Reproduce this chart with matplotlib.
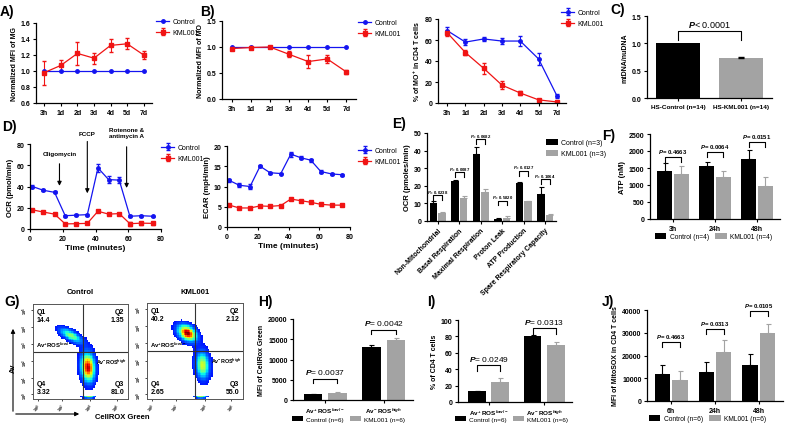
import numpy as np
import matplotlib
matplotlib.use('Agg')
import matplotlib.pyplot as plt

plt.rcParams['font.family'] = ['Liberation Sans', 'DejaVu Sans']
plt.rcParams['font.weight'] = 'bold'
plt.rcParams['axes.labelweight'] = 'bold'
plt.rcParams['mathtext.fontset'] = 'custom'
plt.rcParams['mathtext.rm'] = 'Liberation Sans:bold'
plt.rcParams['mathtext.it'] = 'Liberation Sans:italic'
plt.rcParams['mathtext.bf'] = 'Liberation Sans:bold'

# ---- data ----
days = ['3h', '1d', '2d', '3d', '4d', '5d', '7d']
mg_ctrl = [1.0, 1.0, 1.0, 1.0, 1.0, 1.0, 1.0]
mg_kml = [0.98, 1.07, 1.22, 1.16, 1.32, 1.34, 1.20]
mg_kml_err = [0.15, 0.07, 0.14, 0.07, 0.08, 0.07, 0.05]

mo_ctrl = [1.0, 1.0, 1.0, 1.0, 1.0, 1.0, 1.0]
mo_kml = [0.97, 0.99, 1.0, 0.86, 0.72, 0.77, 0.52]
mo_kml_err = [0.02, 0.01, 0.02, 0.06, 0.12, 0.08, 0.04]

mop_ctrl = [69, 58, 61, 59, 59, 42, 7]
mop_ctrl_err = [3, 2.5, 2, 3, 4.5, 6, 2]
mop_kml = [67, 48, 33, 17, 9.5, 3, 1]
mop_kml_err = [3, 2.5, 5, 4, 2, 1, 0.5]

mt_labels = ['HS-Control (n=14)', 'HS-KML001 (n=14)']
mt_vals = [1.0, 0.73]
mt_err = [0.0, 0.02]

time_min = [1.5, 8, 15, 21.5, 28, 35, 41.5, 48, 54.5, 61, 68, 75]
ocr_ctrl = [40, 36.5, 34.5, 12.5, 13, 13.5, 57.5, 46.5, 46, 12, 12.5, 12]
ocr_ctrl_err = [1, 1, 1, 1, 1, 1, 3.5, 3.5, 3, 1, 1, 0.5]
ocr_kml = [18, 16, 14, 4.8, 5, 5.3, 16.7, 14, 14.5, 5, 5.5, 5.3]
ocr_kml_err = [0.5, 0.5, 0.5, 1, 1, 1, 1, 0.5, 0.5, 2, 1.5, 1.5]
ecar_ctrl = [11.5, 10.3, 10, 15, 13.4, 13.2, 18, 17.1, 16.5, 13.7, 13.1, 12.9]
ecar_ctrl_err = [0.3, 0.5, 0.5, 0.2, 0.2, 0.2, 0.6, 0.4, 0.4, 0.4, 0.2, 0.2]
ecar_kml = [5.4, 4.7, 4.7, 5.2, 5.1, 5.3, 6.9, 6.5, 6.1, 5.6, 5.4, 5.4]
ecar_kml_err = [0.2] * 12

resp_cats = ['Non-Mitochondrial', 'Basal Respiration', 'Maximal Respiration',
             'Proton Leak', 'ATP Production', 'Spare Respiratory Capacity']
resp_ctrl = [10.3, 22.8, 38, 1.3, 21.8, 15.5]
resp_ctrl_err = [0.8, 0.6, 4, 0.2, 0.4, 4]
resp_kml = [4.7, 12.8, 16.5, 1.9, 11.2, 3.4]
resp_kml_err = [0.6, 1.3, 1.5, 0.7, 0.4, 0.3]
resp_p = ['0.0238', '0.0087', '0.0682', '0.5820', '0.0127', '0.1064']
resp_bracket = [12, 25, 43.8, 9, 25.8, 21]

atp_times = ['3h', '24h', '48h']
atp_ctrl = [1420, 1560, 1760]
atp_ctrl_err = [220, 120, 270]
atp_kml = [1330, 1250, 980]
atp_kml_err = [230, 150, 250]
atp_p = ['0.4663', '0.0064', '0.0151']
atp_bracket = [1680, 1820, 2120]

ros_groups = [r'Av$^{+}$ ROS$^{low/-}$', r'Av$^{-}$ ROS$^{high}$']
cellrox_ctrl = [1500, 13200]
cellrox_ctrl_err = [80, 400]
cellrox_kml = [1800, 14800]
cellrox_kml_err = [100, 500]
cellrox_p = ['0.0037', '0.0042']
cellrox_bracket = [4200, 16300]

pct_ctrl = [13, 81]
pct_ctrl_err = [1, 0.5]
pct_kml = [24, 69]
pct_kml_err = [5, 4]
pct_p = ['0.0249', '0.0313']
pct_bracket = [38, 83]

sox_times = ['6h', '24h', '48h']
sox_ctrl = [12000, 12700, 15800]
sox_ctrl_err = [4000, 4500, 4800]
sox_kml = [9200, 21700, 29800]
sox_kml_err = [3800, 5000, 4200]
sox_p = ['0.4663', '0.0313', '0.0105']
sox_bracket = [23700, 29500, 37400]

# flow plots: quadrant values and cluster shapes (cx, cy, sx, sy, angle, weight)
flow_titles = ['Control', 'KML001']
flow_quads = [['14.4', '1.35', '3.32', '81.0'], ['40.2', '2.12', '2.65', '55.0']]
flow_split = [(0.53, 0.5), (0.5, 0.5)]
flow_clusters = [
    [(0.40, 0.67, 0.075, 0.028, -30, 0.45), (0.40, 0.67, 0.12, 0.05, -30, 0.06),
     (0.58, 0.33, 0.04, 0.085, 4, 1.0), (0.58, 0.35, 0.07, 0.14, 4, 0.07),
     (0.59, 0.012, 0.035, 0.007, 0, 0.7)],
    [(0.42, 0.69, 0.06, 0.04, -35, 1.05), (0.40, 0.69, 0.11, 0.07, -35, 0.07),
     (0.58, 0.35, 0.04, 0.08, 4, 0.55), (0.58, 0.36, 0.07, 0.13, 4, 0.06),
     (0.56, 0.012, 0.035, 0.007, 0, 0.7)],
]

BLUE = '#1414f0'
RED = '#f01414'
GREY = '#a3a3a3'

W, H = 786, 427
fig = plt.figure(figsize=(W / 100, H / 100), dpi=100)


def add_ax(l, t, r, b):
    return fig.add_axes([l / W, 1 - b / H, (r - l) / W, (b - t) / H])


def style(ax, fs=5):
    for s in ['top', 'right']:
        ax.spines[s].set_visible(False)
    for s in ['left', 'bottom']:
        ax.spines[s].set_linewidth(0.9)
    ax.tick_params(labelsize=fs, width=0.8, length=2.5, pad=1.5)


def panel(x, y, s):
    fig.text(x / W, 1 - y / H, s, fontsize=10, weight='bold', va='center')


def bracket(ax, x1, x2, y, h, label, ty, fs=4, weight='bold'):
    ax.plot([x1, x1, x2, x2], [y, y + h, y + h, y], color='k', lw=0.8, clip_on=False)
    ax.text((x1 + x2) / 2, ty, '$P$= ' + label, ha='center', va='center',
            fontsize=fs, weight=weight, clip_on=False)


def line_legend(ax, x, y):
    ax.legend(loc='upper left', bbox_to_anchor=(x / W, 1 - y / H),
              bbox_transform=fig.transFigure, frameon=False,
              prop={'size': 5, 'weight': 'normal'}, handlelength=1.9,
              borderaxespad=0, labelspacing=0.6, borderpad=0, handletextpad=0.5)


def bar_legend(ax, x, y, ncol=2, fs=5):
    ax.legend(loc='upper left', bbox_to_anchor=(x / W, 1 - y / H),
              bbox_transform=fig.transFigure, frameon=False,
              prop={'size': fs, 'weight': 'normal'}, ncol=ncol,
              handlelength=1.7, handleheight=0.9, borderaxespad=0,
              columnspacing=1.0, borderpad=0, handletextpad=0.5, labelspacing=0.5)


def ts_plot(ax, xs, c, c_err, k, k_err):
    ax.errorbar(xs, c, yerr=c_err, color=BLUE, marker='o', ms=2.5, lw=0.9,
                capsize=1.5, elinewidth=0.8, label='Control')
    ax.errorbar(xs, k, yerr=k_err, color=RED, marker='s', ms=2.8, lw=0.9,
                capsize=1.5, elinewidth=0.8, label='KML001')


def grouped_bars(ax, n, c, c_err, k, k_err, w=0.35, gap=0.05, labels=('Control', 'KML001')):
    x = np.arange(n)
    xc = x - w / 2 - gap / 2
    xk = x + w / 2 + gap / 2
    ax.bar(xc, c, width=w, color='black', label=labels[0])
    ax.bar(xk, k, width=w, color=GREY, label=labels[1])
    ax.errorbar(xc, c, yerr=[np.zeros(n), c_err], fmt='none', ecolor='black',
                capsize=1.8, elinewidth=0.8, capthick=0.8)
    ax.errorbar(xk, k, yerr=[np.zeros(n), k_err], fmt='none', ecolor=GREY,
                capsize=1.8, elinewidth=0.8, capthick=0.8)
    return xc, xk


# ---- A ----
panel(0, 12, 'A)')
ax = add_ax(36, 24, 152, 104)
style(ax)
ts_plot(ax, np.arange(7), mg_ctrl, None, mg_kml, mg_kml_err)
ax.set_xticks(np.arange(7), days)
ax.set_xlim(-0.5, 6.5)
ax.set_ylim(0.6, 1.6)
ax.set_yticks([0.6, 0.8, 1.0, 1.2, 1.4, 1.6])
ax.set_ylabel('Normalized MFI of MG', fontsize=5, labelpad=2)
line_legend(ax, 156, 19)

# ---- B ----
panel(200, 12, 'B)')
ax = add_ax(222, 22, 356, 100)
style(ax)
ts_plot(ax, np.arange(7), mo_ctrl, None, mo_kml, mo_kml_err)
ax.set_xticks(np.arange(7), days)
ax.set_xlim(-0.5, 6.5)
ax.set_ylim(0, 1.5)
ax.set_yticks([0, 0.5, 1.0, 1.5])
ax.set_ylabel('Normalized MFI of MO', fontsize=5, labelpad=2)
line_legend(ax, 358, 20)

# ---- MO % ----
ax = add_ax(438, 20, 566, 104)
style(ax)
ts_plot(ax, np.arange(7), mop_ctrl, mop_ctrl_err, mop_kml, mop_kml_err)
ax.set_xticks(np.arange(7), days)
ax.set_xlim(-0.5, 6.5)
ax.set_ylim(0, 80)
ax.set_yticks([0, 20, 40, 60, 80])
ax.set_ylabel(r'% of MO$^{+}$ in CD4 T cells', fontsize=5, labelpad=2)
line_legend(ax, 561, 10)

# ---- C ----
panel(610, 10, 'C)')
ax = add_ax(647, 17, 772, 99)
style(ax)
ax.bar([0, 1], mt_vals, width=0.7, color=['black', GREY])
ax.errorbar([1], mt_vals[1:], yerr=[[0], mt_err[1:]], fmt='none', ecolor='black',
            capsize=2, elinewidth=0.8)
ax.set_xlim(-0.5, 1.5)
ax.set_ylim(0, 1.5)
ax.set_yticks([0, 0.5, 1.0, 1.5])
ax.set_xticks([0, 1], mt_labels, fontsize=4.6)
ax.set_ylabel('mtDNA/nuDNA', fontsize=5, labelpad=2)
ax.plot([0, 0, 1, 1], [1.07, 1.22, 1.22, 1.07], color='k', lw=0.8)
ax.text(0.5, 1.36, '$P$< 0.0001', ha='center', va='center', fontsize=6.5, weight='normal')

# ---- D ----
panel(2, 127, 'D)')
ax = add_ax(30, 145, 161, 230)
style(ax)
ts_plot(ax, time_min, ocr_ctrl, ocr_ctrl_err, ocr_kml, ocr_kml_err)
ax.set_xlim(0, 80)
ax.set_ylim(0, 80)
ax.set_xticks([0, 20, 40, 60, 80])
ax.set_yticks([0, 20, 40, 60, 80])
ax.set_ylabel('OCR (pmol/min)', fontsize=5.5, labelpad=2)
ax.set_xlabel('Time (minutes)', fontsize=6, labelpad=2)
arr = dict(arrowstyle='-|>', color='k', lw=0.8, mutation_scale=6)
ax.annotate('', xy=(18, 38), xytext=(18, 64), arrowprops=arr)
ax.text(18, 71, 'Oligomycin', ha='center', va='center', fontsize=4.5)
ax.annotate('', xy=(35, 31), xytext=(35, 85), arrowprops=arr, annotation_clip=False)
ax.text(35, 90, 'FCCP', ha='center', va='center', fontsize=4.5, clip_on=False)
ax.annotate('', xy=(59, 36), xytext=(59, 80), arrowprops=arr, annotation_clip=False)
ax.text(59, 91, 'Rotenone &\nantimycin A', ha='center', va='center', fontsize=4.5,
        linespacing=1.1, clip_on=False)
line_legend(ax, 161, 145)

ax = add_ax(227, 147, 350, 228)
style(ax)
ts_plot(ax, time_min, ecar_ctrl, ecar_ctrl_err, ecar_kml, ecar_kml_err)
ax.set_xlim(0, 80)
ax.set_ylim(0, 20)
ax.set_xticks([0, 20, 40, 60, 80])
ax.set_yticks([0, 5, 10, 15, 20])
ax.set_ylabel('ECAR (mpH/min)', fontsize=5.5, labelpad=2)
ax.set_xlabel('Time (minutes)', fontsize=6, labelpad=2)
line_legend(ax, 358, 148)

# ---- E ----
panel(392, 124, 'E)')
ax = add_ax(427, 134, 556, 222)
style(ax)
xc, xk = grouped_bars(ax, 6, resp_ctrl, resp_ctrl_err, resp_kml, resp_kml_err,
                      labels=('Control (n=3)', 'KML001 (n=3)'))
ax.set_xlim(-0.5, 5.5)
ax.set_ylim(0, 50)
ax.set_yticks([0, 10, 20, 30, 40, 50])
ax.set_xticks(np.arange(6), resp_cats, rotation=45, ha='right',
              rotation_mode='anchor', fontsize=5)
ax.set_ylabel('OCR (pmoles/min)', fontsize=5.5, labelpad=2)
for i in range(6):
    yb = resp_bracket[i]
    bracket(ax, xc[i], xk[i], yb, 2.6, resp_p[i], yb + 5.0, fs=3.1)
bar_legend(ax, 546, 140, ncol=1)

# ---- F ----
panel(602, 136, 'F)')
ax = add_ax(650, 135, 780, 220)
style(ax)
xc, xk = grouped_bars(ax, 3, atp_ctrl, atp_ctrl_err, atp_kml, atp_kml_err,
                      labels=('Control (n=4)', 'KML001 (n=4)'))
ax.set_xlim(-0.55, 2.55)
ax.set_ylim(0, 2500)
ax.set_yticks([0, 500, 1000, 1500, 2000, 2500])
ax.set_xticks(np.arange(3), atp_times)
ax.set_ylabel('ATP (nM)', fontsize=5.5, labelpad=2)
for i in range(3):
    yb = atp_bracket[i]
    bracket(ax, xc[i], xk[i], yb, 140, atp_p[i], yb + 330, fs=4.3)
bar_legend(ax, 655, 234, fs=4.8)

# ---- G ----
panel(4, 302, 'G)')
gx = np.linspace(0, 1, 60)
GX, GY = np.meshgrid(gx, gx)
flow_boxes = [(33, 305, 128, 400), (147, 304, 243, 400)]
for j in range(2):
    l, t, r, b = flow_boxes[j]
    ax = add_ax(l, t, r, b)
    dens = np.zeros_like(GX)
    for cx, cy, sx, sy, ang, wgt in flow_clusters[j]:
        a = np.deg2rad(ang)
        u = (GX - cx) * np.cos(a) + (GY - cy) * np.sin(a)
        v = -(GX - cx) * np.sin(a) + (GY - cy) * np.cos(a)
        dens += wgt * np.exp(-0.5 * ((u / sx) ** 2 + (v / sy) ** 2))
    dens = np.ma.masked_less(dens, 0.03)
    ax.imshow(dens, origin='lower', extent=[0, 1, 0, 1], cmap='jet', vmin=-0.15,
              vmax=1.1, interpolation='nearest', aspect='auto')
    xs, ys = flow_split[j]
    ax.axvline(xs, color='#333333', lw=0.8)
    ax.axhline(ys, color='#333333', lw=0.8)
    ax.set_xlim(0, 1)
    ax.set_ylim(0, 1)
    for s in ax.spines.values():
        s.set_linewidth(0.7)
        s.set_color('#555555')
    ax.set_xticks([0.05, 0.3, 0.6, 0.88],
                  [r'$10^0$', r'$10^2$', r'$10^4$', r'$10^6$'], rotation=45)
    ax.set_yticks([0.05, 0.22, 0.4, 0.58, 0.76, 0.94],
                  [r'$10^0$', r'$10^1$', r'$10^2$', r'$10^3$', r'$10^4$', r'$10^5$'], rotation=90)
    ax.tick_params(labelsize=2.8, length=1.5, width=0.5, pad=0.5)
    q = flow_quads[j]
    fs = 5
    ax.text(0.04, 0.96, 'Q1\n' + q[0], ha='left', va='top', fontsize=fs, linespacing=1.3)
    ax.text(0.96, 0.96, 'Q2\n' + q[1], ha='right', va='top', fontsize=fs, linespacing=1.3)
    ax.text(0.04, 0.04, 'Q4\n' + q[2], ha='left', va='bottom', fontsize=fs, linespacing=1.3)
    ax.text(0.96, 0.04, 'Q3\n' + q[3], ha='right', va='bottom', fontsize=fs, linespacing=1.3)
    ax.text(0.03, 0.57, r'Av$^{+}$ROS$^{low/-}$', ha='left', va='center', fontsize=4.3)
    ax.text(0.99, 0.4, r'Av$^{-}$ROS$^{high}$', ha='right', va='center', fontsize=3.9)
    fig.text((l + r) / 2 / W, 1 - 293 / H, flow_titles[j], ha='center', va='center',
             fontsize=5.5)

fig.add_artist(matplotlib.patches.FancyArrowPatch(
    (13 / W, 1 - 415 / H), (13 / W, 1 - 327 / H), transform=fig.transFigure,
    arrowstyle='-|>', mutation_scale=6, lw=0.8, color='k'))
fig.add_artist(matplotlib.patches.FancyArrowPatch(
    (13 / W, 1 - 415 / H), (82 / W, 1 - 415 / H), transform=fig.transFigure,
    arrowstyle='-|>', mutation_scale=6, lw=0.8, color='k'))
fig.text(13 / W, 1 - 368 / H, 'Av', rotation=90, ha='center', va='center', fontsize=5.5)
fig.text(122 / W, 1 - 418 / H, 'CellROX Green', ha='center', va='center', fontsize=5.5)

# ---- H ----
panel(258, 302, 'H)')
ax = add_ax(293, 320, 413, 401)
style(ax)
xc, xk = grouped_bars(ax, 2, cellrox_ctrl, cellrox_ctrl_err, cellrox_kml, cellrox_kml_err,
                      w=0.32, gap=0.1, labels=('Control (n=6)', 'KML001 (n=6)'))
ax.set_xlim(-0.55, 1.5)
ax.set_ylim(0, 20000)
ax.set_yticks([0, 5000, 10000, 15000, 20000])
ax.set_xticks([0, 1], ros_groups, fontsize=4.5)
ax.set_ylabel('MFI of CellRox Green', fontsize=5, labelpad=2)
for i in range(2):
    yb = cellrox_bracket[i]
    bracket(ax, xc[i], xk[i], yb, 1100, cellrox_p[i], yb + 2800, fs=6, weight='normal')
bar_legend(ax, 292, 417, fs=4.6)

# ---- I ----
panel(427, 302, 'I)')
ax = add_ax(458, 321, 572, 403)
style(ax)
xc, xk = grouped_bars(ax, 2, pct_ctrl, pct_ctrl_err, pct_kml, pct_kml_err,
                      w=0.32, gap=0.1, labels=('Control (n=6)', 'KML001 (n=6)'))
ax.set_xlim(-0.55, 1.5)
ax.set_ylim(0, 100)
ax.set_yticks([0, 20, 40, 60, 80, 100])
ax.set_xticks([0, 1], ros_groups, fontsize=4.5)
ax.set_ylabel('% of CD4 T cells', fontsize=5, labelpad=2)
for i in range(2):
    yb = pct_bracket[i]
    bracket(ax, xc[i], xk[i], yb, 7, pct_p[i], yb + 15, fs=6, weight='normal')
bar_legend(ax, 455, 417, fs=4.6)

# ---- J ----
panel(602, 302, 'J)')
ax = add_ax(647, 311, 783, 402)
style(ax)
xc, xk = grouped_bars(ax, 3, sox_ctrl, sox_ctrl_err, sox_kml, sox_kml_err,
                      labels=('Control (n=6)', 'KML001 (n=6)'))
ax.set_xlim(-0.55, 2.55)
ax.set_ylim(0, 40000)
ax.set_yticks([0, 10000, 20000, 30000, 40000])
ax.set_xticks(np.arange(3), sox_times)
ax.set_ylabel('MFI of MitoSOX in CD4 T cells', fontsize=5, labelpad=2)
for i in range(3):
    yb = sox_bracket[i]
    bracket(ax, xc[i], xk[i], yb, 2300, sox_p[i], yb + 5000, fs=4.3)
bar_legend(ax, 649, 416, fs=4.8)

fig.savefig('out.png', dpi=100)
